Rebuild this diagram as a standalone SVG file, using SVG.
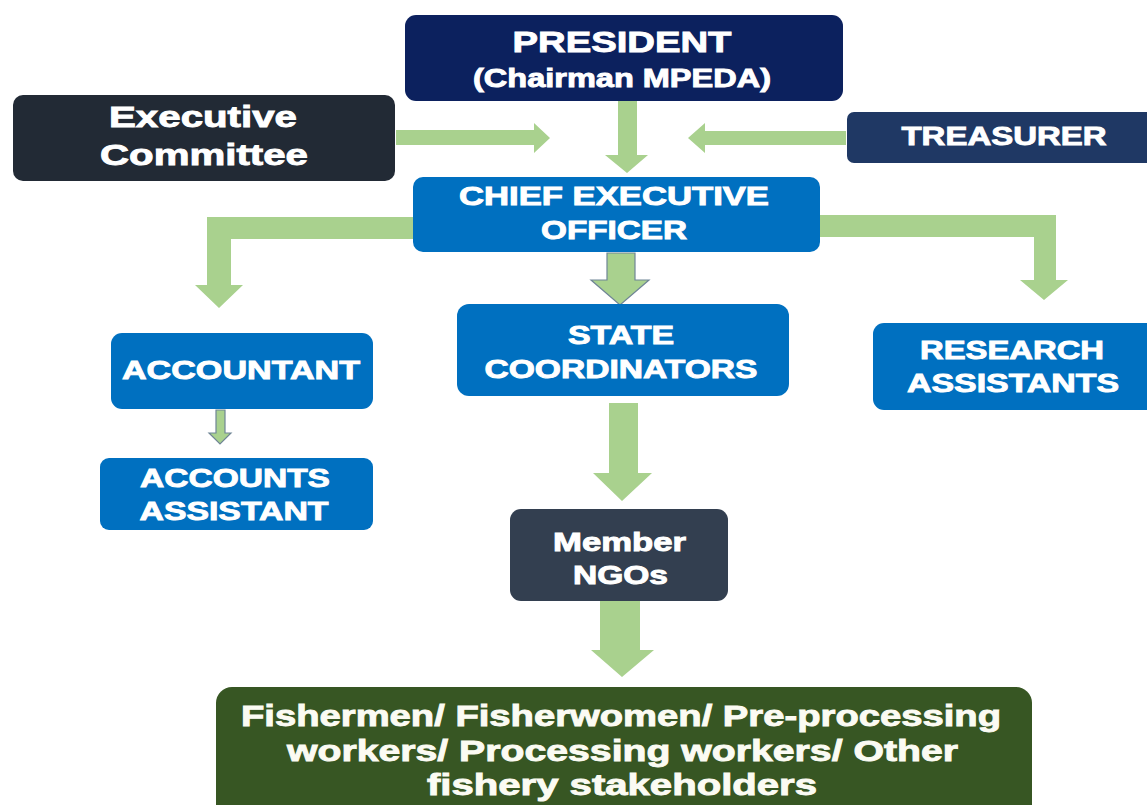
<svg xmlns="http://www.w3.org/2000/svg" width="1147" height="805" viewBox="0 0 1147 805">
<style>
.t{font-family:"Liberation Sans",Arial,sans-serif;font-weight:bold;fill:#ffffff;stroke:#ffffff;stroke-width:0.9;paint-order:stroke;text-anchor:middle}
.arr{fill:#a9d18e}
.arro{fill:#a9d18e;stroke:#6f8596;stroke-width:1.2}
</style>
<rect width="1147" height="805" fill="#ffffff"/>
<g id="connectors">
<polygon class="arr" points="396,130 534,130 534,123 550,138 534,153 534,145 396,145"/>
<polygon class="arr" points="846,131 705,131 705,123 688,138 705,153 705,145 846,145"/>
<polygon class="arr" points="618,101 637,101 637,155 648,155 627,173 605,155 618,155"/>
<polygon class="arr" points="413,217 207,217 207,285 195,285 219,308 243,285 231,285 231,239 413,239"/>
<polygon class="arr" points="818,215 1056,215 1056,280 1068,280 1044,300 1020,280 1034,280 1034,237 818,237"/>
<polygon class="arro" points="607,253 635,253 635,280 649,280 620,305 591,280 607,280"/>
<polygon class="arr" points="609,403 638,403 638,473 652,473 622,501 593,473 609,473"/>
<polygon class="arr" points="600,601 640,601 640,650 654,650 622,677 591,650 600,650"/>
<polygon class="arro" points="216,410 225,410 225,433 231,433 220,444 209,433 216,433"/>
</g>
<g id="president">
<rect x="405" y="15" width="438" height="86" rx="11" fill="#0c215e"/>
<text class="t" x="622" y="52" font-size="30" textLength="219" lengthAdjust="spacingAndGlyphs">PRESIDENT</text>
<text class="t" x="622" y="87" font-size="25" textLength="298" lengthAdjust="spacingAndGlyphs">(Chairman MPEDA)</text>
</g>
<g id="executive-committee">
<rect x="13" y="95" width="382" height="86" rx="10" fill="#222a35"/>
<text class="t" x="203" y="127" font-size="30" textLength="188" lengthAdjust="spacingAndGlyphs">Executive</text>
<text class="t" x="204" y="165" font-size="30" textLength="208" lengthAdjust="spacingAndGlyphs">Committee</text>
</g>
<g id="treasurer">
<rect x="847" y="112" width="312" height="51" rx="7" fill="#1f3864"/>
<text class="t" x="1004" y="145" font-size="26" textLength="205" lengthAdjust="spacingAndGlyphs">TREASURER</text>
</g>
<g id="ceo">
<rect x="413" y="177" width="407" height="75" rx="10" fill="#0070c0"/>
<text class="t" x="614" y="205" font-size="25" textLength="310" lengthAdjust="spacingAndGlyphs">CHIEF EXECUTIVE</text>
<text class="t" x="614" y="239" font-size="25" textLength="146" lengthAdjust="spacingAndGlyphs">OFFICER</text>
</g>
<g id="accountant">
<rect x="111" y="333" width="262" height="76" rx="11" fill="#0070c0"/>
<text class="t" x="241" y="379" font-size="26" textLength="238" lengthAdjust="spacingAndGlyphs">ACCOUNTANT</text>
</g>
<g id="accounts-assistant">
<rect x="100" y="458" width="273" height="72" rx="9" fill="#0070c0"/>
<text class="t" x="235" y="487" font-size="26" textLength="190" lengthAdjust="spacingAndGlyphs">ACCOUNTS</text>
<text class="t" x="234" y="520" font-size="26" textLength="189" lengthAdjust="spacingAndGlyphs">ASSISTANT</text>
</g>
<g id="state-coordinators">
<rect x="457" y="304" width="332" height="92" rx="12" fill="#0070c0"/>
<text class="t" x="621" y="344" font-size="25" textLength="106" lengthAdjust="spacingAndGlyphs">STATE</text>
<text class="t" x="621" y="378" font-size="25" textLength="273" lengthAdjust="spacingAndGlyphs">COORDINATORS</text>
</g>
<g id="research-assistants">
<rect x="873" y="323" width="290" height="87" rx="11" fill="#0070c0"/>
<text class="t" x="1012" y="359" font-size="25" textLength="184" lengthAdjust="spacingAndGlyphs">RESEARCH</text>
<text class="t" x="1013" y="392" font-size="25" textLength="212" lengthAdjust="spacingAndGlyphs">ASSISTANTS</text>
</g>
<g id="member-ngos">
<rect x="510" y="509" width="218" height="92" rx="11" fill="#333f50"/>
<text class="t" x="619.5" y="551" font-size="25" textLength="133" lengthAdjust="spacingAndGlyphs">Member</text>
<text class="t" x="620.5" y="584" font-size="25" textLength="95" lengthAdjust="spacingAndGlyphs">NGOs</text>
</g>
<g id="stakeholders">
<rect x="216" y="687" width="816" height="140" rx="16" fill="#375623"/>
<text class="t" x="621" y="726" font-size="29" textLength="760" lengthAdjust="spacingAndGlyphs" style="fill:#fbfbf3;stroke:#fbfbf3">Fishermen/ Fisherwomen/ Pre-processing</text>
<text class="t" x="622.5" y="761" font-size="29" textLength="671" lengthAdjust="spacingAndGlyphs" style="fill:#fbfbf3;stroke:#fbfbf3">workers/ Processing workers/ Other</text>
<text class="t" x="622" y="795" font-size="29" textLength="390" lengthAdjust="spacingAndGlyphs" style="fill:#fbfbf3;stroke:#fbfbf3">fishery stakeholders</text>
</g>
</svg>
